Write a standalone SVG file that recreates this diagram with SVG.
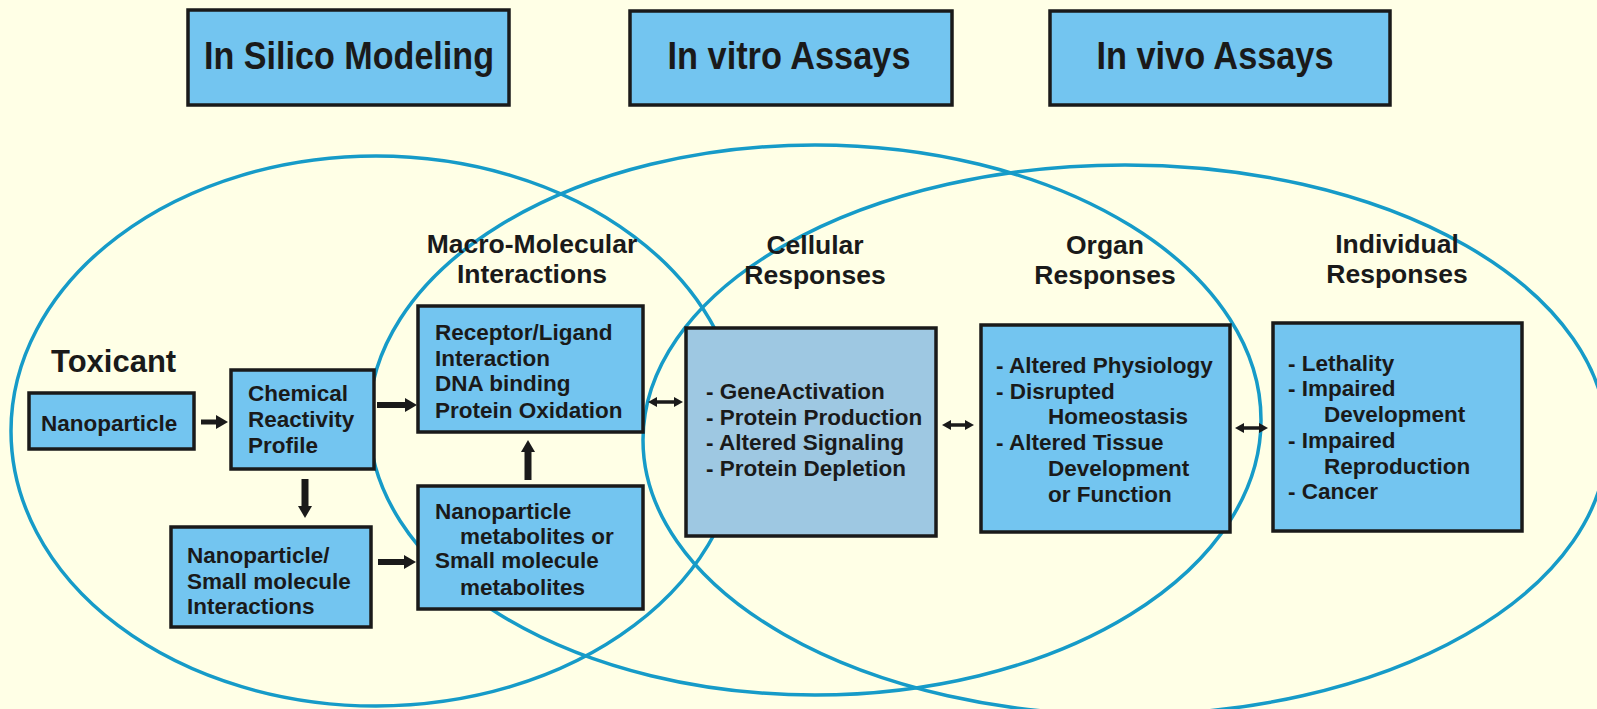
<svg xmlns="http://www.w3.org/2000/svg" width="1597" height="709" viewBox="0 0 1597 709">
<style>
.bg{fill:#ffffe6}
.ell{fill:none;stroke:#169bc8;stroke-width:3.5}
.box{fill:#73c5f0;stroke:#1a1a1a;stroke-width:3.5}
.cell{fill:#9ec8e2;stroke:#1a1a1a;stroke-width:3.5}
.t{font-family:"Liberation Sans",Arial,sans-serif;font-weight:bold;fill:#1a1a1a}
.body{font-size:22.5px}
.lab{font-size:26.5px;text-anchor:middle}
.title{font-size:38px;text-anchor:middle}
.arr{stroke:#1a1a1a;fill:none}
</style>
<defs>
<marker id="ah" markerUnits="userSpaceOnUse" viewBox="0 0 12 14" markerWidth="12" markerHeight="14" refX="1" refY="7" orient="auto">
<path d="M0,0 L12,7 L0,14 z" fill="#1a1a1a"/>
</marker>
<marker id="dh" markerUnits="userSpaceOnUse" viewBox="0 0 9 10" markerWidth="9" markerHeight="10" refX="1" refY="5" orient="auto-start-reverse">
<path d="M0,0 L9,5 L0,10 z" fill="#1a1a1a"/>
</marker>
</defs>
<rect class="bg" x="0" y="0" width="1597" height="709"/>

<g id="ellipses">
<ellipse class="ell" cx="376" cy="431" rx="365" ry="275"/>
<ellipse class="ell" cx="815" cy="420" rx="446" ry="275"/>
<ellipse class="ell" cx="1125" cy="440" rx="482" ry="275"/>
</g>

<g id="title-insilico">
<rect class="box" x="188" y="10" width="321" height="95"/>
<text class="t title" x="349" y="69" textLength="290" lengthAdjust="spacingAndGlyphs">In Silico Modeling</text>
</g>
<g id="title-invitro">
<rect class="box" x="630" y="11" width="322" height="94"/>
<text class="t title" x="789" y="69" textLength="243" lengthAdjust="spacingAndGlyphs">In vitro Assays</text>
</g>
<g id="title-invivo">
<rect class="box" x="1050" y="11" width="340" height="94"/>
<text class="t title" x="1215" y="69" textLength="237" lengthAdjust="spacingAndGlyphs">In vivo Assays</text>
</g>

<g id="toxicant-label">
<text class="t" x="51" y="372" font-size="31">Toxicant</text>
</g>
<g id="label-macro">
<text class="t lab" x="532" y="253">Macro-Molecular</text>
<text class="t lab" x="532" y="283">Interactions</text>
</g>
<g id="label-cellular">
<text class="t lab" x="815" y="254">Cellular</text>
<text class="t lab" x="815" y="284">Responses</text>
</g>
<g id="label-organ">
<text class="t lab" x="1105" y="254">Organ</text>
<text class="t lab" x="1105" y="284">Responses</text>
</g>
<g id="label-individual">
<text class="t lab" x="1397" y="253">Individual</text>
<text class="t lab" x="1397" y="283">Responses</text>
</g>

<g id="nanoparticle">
<rect class="box" x="29" y="393" width="165" height="56"/>
<text class="t body" x="41" y="431">Nanoparticle</text>
</g>
<g id="chemical">
<rect class="box" x="231" y="370" width="143" height="99"/>
<text class="t body" x="248" y="401">Chemical</text>
<text class="t body" x="248" y="427">Reactivity</text>
<text class="t body" x="248" y="453">Profile</text>
</g>
<g id="nano-small">
<rect class="box" x="171" y="527" width="200" height="100"/>
<text class="t body" x="187" y="563">Nanoparticle/</text>
<text class="t body" x="187" y="589">Small molecule</text>
<text class="t body" x="187" y="614">Interactions</text>
</g>
<g id="receptor">
<rect class="box" x="418" y="306" width="225" height="126"/>
<text class="t body" x="435" y="340">Receptor/Ligand</text>
<text class="t body" x="435" y="366">Interaction</text>
<text class="t body" x="435" y="391">DNA binding</text>
<text class="t body" x="435" y="418">Protein Oxidation</text>
</g>
<g id="metabolites">
<rect class="box" x="418" y="486" width="225" height="123"/>
<text class="t body" x="435" y="519">Nanoparticle</text>
<text class="t body" x="460" y="544">metabolites or</text>
<text class="t body" x="435" y="568">Small molecule</text>
<text class="t body" x="460" y="595">metabolites</text>
</g>
<g id="cellular">
<rect class="cell" x="686" y="328" width="250" height="208"/>
<text class="t body" x="706" y="399">- GeneActivation</text>
<text class="t body" x="706" y="425">- Protein Production</text>
<text class="t body" x="706" y="450">- Altered Signaling</text>
<text class="t body" x="706" y="476">- Protein Depletion</text>
</g>
<g id="organ">
<rect class="box" x="981" y="325" width="249" height="207"/>
<text class="t body" x="996" y="373">- Altered Physiology</text>
<text class="t body" x="996" y="399">- Disrupted</text>
<text class="t body" x="1048" y="424">Homeostasis</text>
<text class="t body" x="996" y="450">- Altered Tissue</text>
<text class="t body" x="1048" y="476">Development</text>
<text class="t body" x="1048" y="502">or Function</text>
</g>
<g id="individual">
<rect class="box" x="1273" y="323" width="249" height="208"/>
<text class="t body" x="1288" y="371">- Lethality</text>
<text class="t body" x="1288" y="396">- Impaired</text>
<text class="t body" x="1324" y="422">Development</text>
<text class="t body" x="1288" y="448">- Impaired</text>
<text class="t body" x="1324" y="474">Reproduction</text>
<text class="t body" x="1288" y="499">- Cancer</text>
</g>

<g id="connectors">
<line class="arr" x1="201" y1="422" x2="217" y2="422" stroke-width="5" marker-end="url(#ah)"/>
<line class="arr" x1="377" y1="405" x2="406" y2="405" stroke-width="6" marker-end="url(#ah)"/>
<line class="arr" x1="305" y1="479" x2="305" y2="507" stroke-width="7" marker-end="url(#ah)"/>
<line class="arr" x1="378" y1="562" x2="405" y2="562" stroke-width="6" marker-end="url(#ah)"/>
<line class="arr" x1="528" y1="480" x2="528" y2="451" stroke-width="7" marker-end="url(#ah)"/>
<line class="arr" x1="656" y1="402" x2="675" y2="402" stroke-width="3.5" marker-start="url(#dh)" marker-end="url(#dh)"/>
<line class="arr" x1="950" y1="425" x2="966" y2="425" stroke-width="3.5" marker-start="url(#dh)" marker-end="url(#dh)"/>
<line class="arr" x1="1243" y1="428" x2="1260" y2="428" stroke-width="3.5" marker-start="url(#dh)" marker-end="url(#dh)"/>
</g>
</svg>
